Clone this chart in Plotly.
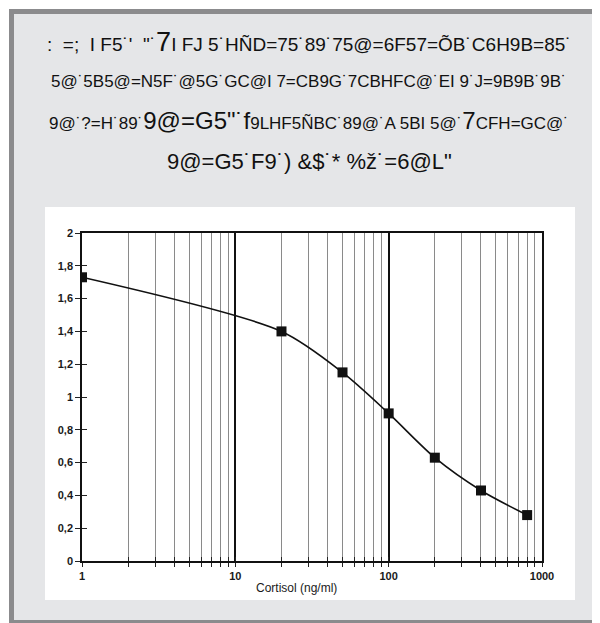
import plotly.graph_objects as go

# ---- data ----
concentration = [1, 20, 50, 100, 200, 400, 800]          # Cortisol (ng/ml)
absorbance = [1.73, 1.40, 1.15, 0.90, 0.63, 0.43, 0.28]

decade_vals = [1, 10, 100, 1000]
decade_text = ["<b>1</b>", "<b>10</b>", "<b>100</b>", "<b>1000</b>"]
minor_vals = [m * d for d in (1, 10, 100) for m in range(2, 10)]
all_vals = sorted(decade_vals + minor_vals)
y_vals = [0, 0.2, 0.4, 0.6, 0.8, 1, 1.2, 1.4, 1.6, 1.8, 2]
y_text = ["<b>%s</b>" % t for t in
          ["0", "0,2", "0,4", "0,6", "0,8", "1", "1,2", "1,4", "1,6", "1,8", "2"]]

x_title = "Cortisol (ng/ml)"


def S(size, txt):
    return "<span style='font-size:%dpx'>%s</span>" % (size, txt)


header_lines = [
    (19, ":  =;  I F5˙'  \"˙" + S(27, "7") + "I FJ 5˙HÑD=75˙89˙75@=6F57=ÕB˙C6H9B=85˙"),
    (17, "5@˙5B5@=N5F˙@5G˙GC@I 7=CB9G˙7CBHFC@˙EI 9˙J=9B9B˙9B˙"),
    (17, "9@˙?=H˙89˙" + S(24, "9@=G5\"˙f") + "9LHF5ÑBC˙89@˙A 5BI 5@˙" + S(24, "7") + "CFH=GC@˙"),
    (17, S(22, "9@=G5˙F9˙) &$˙* %ž˙=6@L\"")),
]

# ---- geometry helpers (page pixels -> paper); page has an 8px body offset ----
OFF = 8
WIDTH, HEIGHT = 600, 623
L, R, T, B = 74, 66, 225, 70
PW, PH = WIDTH - L - R, HEIGHT - T - B


def px(x):
    return (x - OFF - L) / PW


def py(y):
    return (HEIGHT - B - (y - OFF)) / PH


fig = go.Figure()

fig.add_trace(go.Scatter(
    x=concentration, y=absorbance, mode="lines+markers",
    line=dict(color="#111", width=1.6, shape="spline", smoothing=0.8),
    marker=dict(symbol="square", size=10, color="#111"),
    hoverinfo="skip", showlegend=False,
))
# helper trace so overlay axes (crossing ticks) are drawn
fig.add_trace(go.Scatter(
    x=concentration, y=absorbance, xaxis="x2", yaxis="y2", mode="markers",
    marker=dict(opacity=0), hoverinfo="skip", showlegend=False,
))

tickfont = dict(family="Liberation Sans, Arial, sans-serif", size=11, color="#1a1a1a")

fig.update_layout(
    width=WIDTH, height=HEIGHT,
    margin=dict(l=L, r=R, t=T, b=B),
    paper_bgcolor="white", plot_bgcolor="white",
    xaxis=dict(
        type="log", range=[0, 3], tickmode="array", tickvals=decade_vals,
        ticktext=decade_text,
        ticks="outside", ticklen=4, tickwidth=1.2, tickcolor="#222",
        showline=True, linecolor="#111", linewidth=1.6, mirror=True,
        showgrid=True, gridcolor="#111", gridwidth=2,
        zeroline=False, tickfont=tickfont,
        minor=dict(tickmode="array", tickvals=minor_vals, showgrid=True,
                   gridcolor="#8a8a8a", gridwidth=1, ticks="outside",
                   ticklen=4, tickwidth=1.2, tickcolor="#222"),
    ),
    xaxis2=dict(
        type="log", range=[0, 3], overlaying="x", anchor="y", side="bottom",
        tickmode="array", tickvals=all_vals, ticktext=["" for _ in all_vals],
        ticks="inside", ticklen=4, tickwidth=1.2, tickcolor="#222",
        showgrid=False, showline=False, zeroline=False,
    ),
    yaxis=dict(
        range=[0, 2], tickmode="array", tickvals=y_vals, ticktext=y_text,
        ticks="outside", ticklen=5, tickwidth=1.2, tickcolor="#222",
        showline=True, linecolor="#111", linewidth=1.6, mirror=True,
        showgrid=False, zeroline=False, tickfont=tickfont,
    ),
    yaxis2=dict(
        range=[0, 2], overlaying="y", anchor="x", side="left",
        tickmode="array", tickvals=y_vals, ticktext=["" for _ in y_vals],
        ticks="inside", ticklen=5, tickwidth=1.2, tickcolor="#222",
        showgrid=False, showline=False, zeroline=False,
    ),
)

# frame, light panel, and white chart area
fig.add_shape(type="rect", xref="paper", yref="paper", layer="below",
              x0=px(9), x1=px(620), y0=py(640), y1=py(9),
              fillcolor="#8b8b8d", line=dict(width=0))
fig.add_shape(type="rect", xref="paper", yref="paper", layer="below",
              x0=px(14), x1=px(620), y0=py(620), y1=py(14),
              fillcolor="#e5e6e8", line=dict(width=0))
fig.add_shape(type="rect", xref="paper", yref="paper", layer="below",
              x0=px(45), x1=px(575), y0=py(600), y1=py(207),
              fillcolor="white", line=dict(width=0))

# header text
line_y = [42, 82, 121, 161]
for (size, txt), yy in zip(header_lines, line_y):
    fig.add_annotation(
        text=txt, xref="paper", yref="paper", x=px(309), y=py(yy),
        xanchor="center", yanchor="middle", showarrow=False,
        font=dict(family="Liberation Sans, Arial, sans-serif", size=size, color="#111111"),
    )

# axis title
fig.add_annotation(
    text=x_title, xref="paper", yref="paper", x=px(296), y=py(588),
    xanchor="center", yanchor="middle", showarrow=False,
    font=dict(family="Liberation Sans, Arial, sans-serif", size=12, color="#1a1a1a"),
)

fig.write_html("out.html")
